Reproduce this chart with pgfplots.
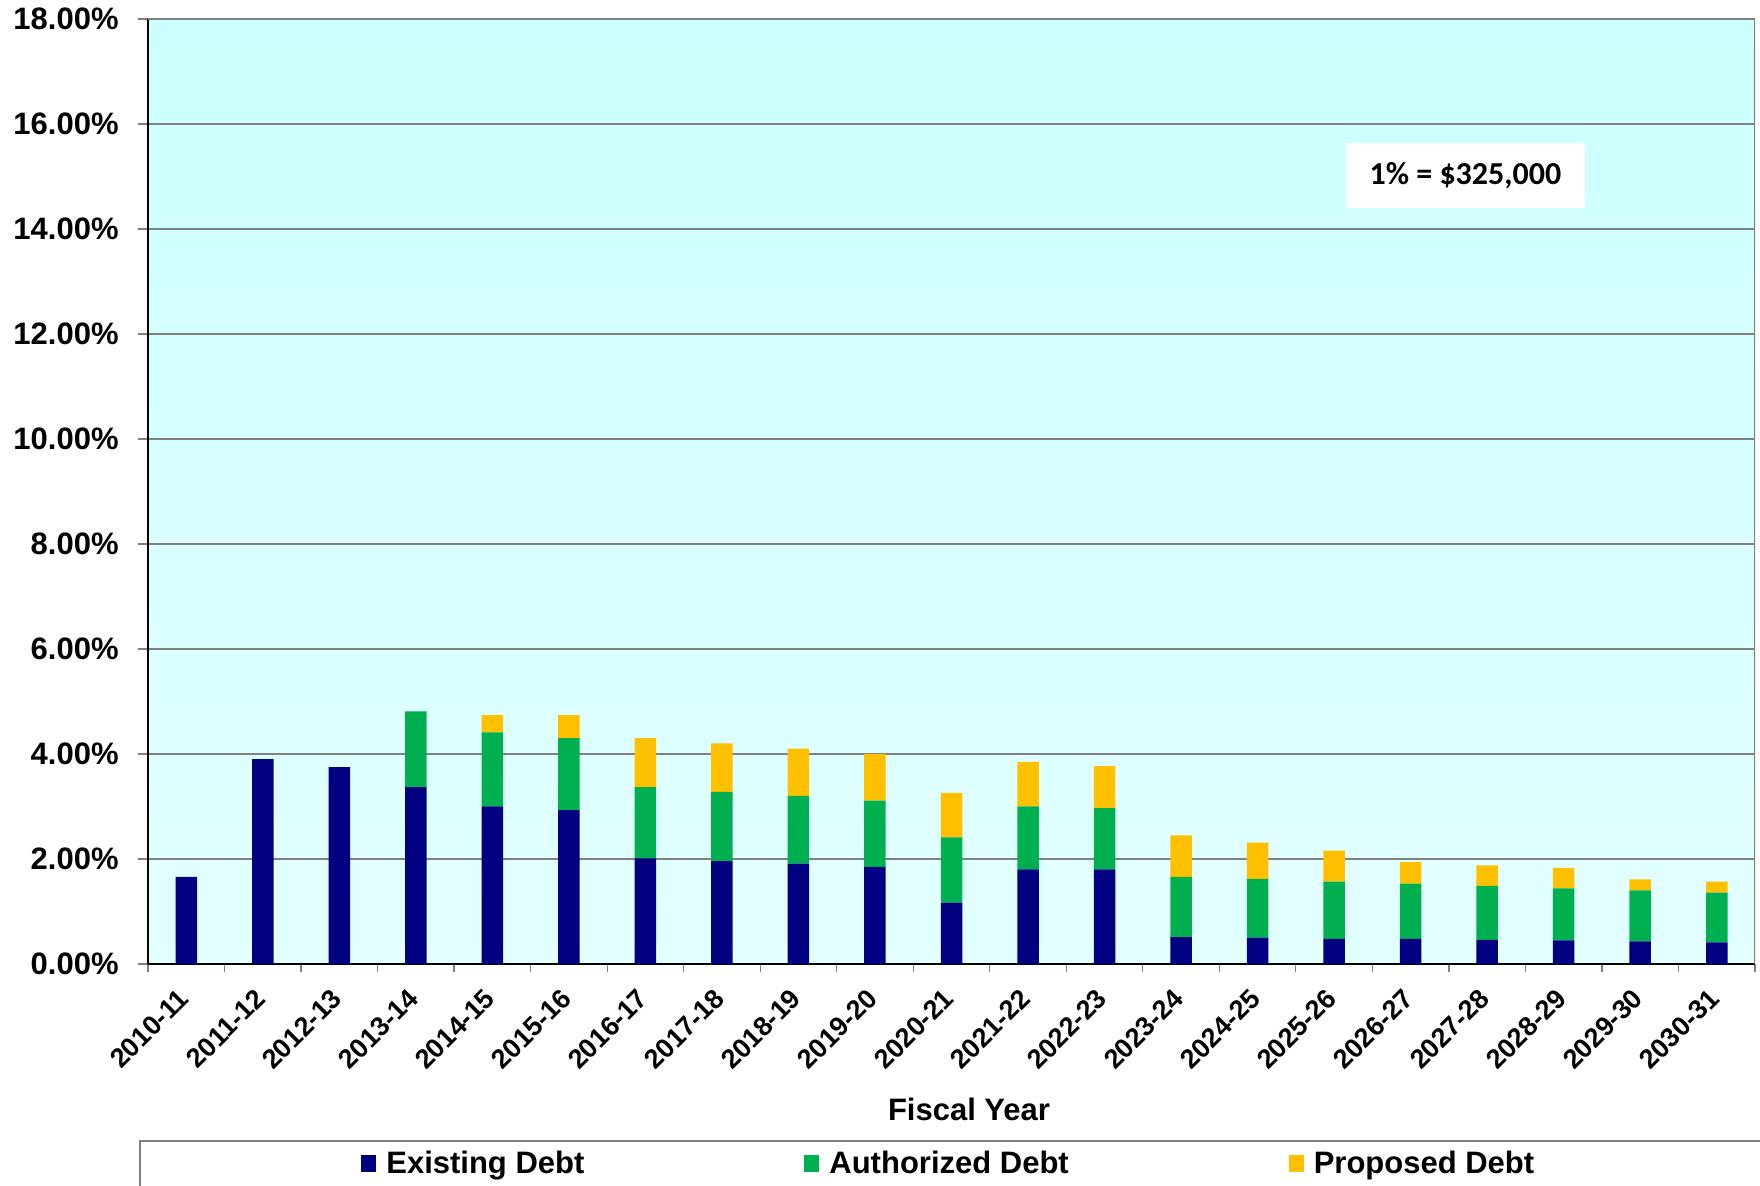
\documentclass[border=0pt]{standalone}
\usepackage{pgfplots}
\pgfplotsset{compat=1.18}
\usepackage{pgfplotstable}
\usepackage{fontspec}
\setmainfont{Liberation Sans}
\newfontfamily\calibri{Carlito}

\definecolor{existing}{HTML}{000080}
\definecolor{authorized}{HTML}{00B050}
\definecolor{proposed}{HTML}{FFC000}
\definecolor{gridgray}{HTML}{808080}
\definecolor{bgtop}{HTML}{CCFFFF}
\definecolor{bgbottom}{HTML}{E3FFFF}

% Debt service as a share of the budget, in percent, by fiscal year
\pgfplotstableread{
idx existing authorized proposed
0  1.66 0    0
1  3.90 0    0
2  3.75 0    0
3  3.37 1.44 0
4  3.00 1.41 0.33
5  2.93 1.37 0.44
6  2.01 1.36 0.93
7  1.96 1.32 0.92
8  1.91 1.29 0.90
9  1.85 1.26 0.89
10 1.17 1.24 0.85
11 1.80 1.20 0.85
12 1.80 1.17 0.80
13 0.51 1.15 0.79
14 0.50 1.12 0.69
15 0.48 1.09 0.59
16 0.48 1.05 0.41
17 0.46 1.03 0.39
18 0.45 0.99 0.39
19 0.43 0.97 0.21
20 0.41 0.95 0.21
}\debttable

\begin{document}
\begin{tikzpicture}
\begin{axis}[
  at={(0pt,0pt)}, anchor=south west,
  scale only axis, width=803.5pt, height=472.5pt,
  ymin=0, ymax=18, xmin=-0.5, xmax=20.5,
  ybar stacked, bar width=10.75pt,
  axis background/.style={top color=bgtop, bottom color=bgbottom},
  axis x line*=bottom, axis y line*=left,
  axis line style={black, line width=1pt},
  ytick={0,2,...,18},
  ymajorgrids, major grid style={gridgray, line width=0.6pt},
  xtick=data,
  xticklabels={2010-11,2011-12,2012-13,2013-14,2014-15,2015-16,2016-17,2017-18,2018-19,2019-20,2020-21,2021-22,2022-23,2023-24,2024-25,2025-26,2026-27,2027-28,2028-29,2029-30,2030-31},
  minor xtick={-0.5,0.5,...,20.5},
  major x tick style={draw=none},
  tick align=outside,
  major tick length=5pt, minor tick length=4pt,
  tick style={gridgray, line width=0.6pt},
  /pgf/number format/assume math mode=true,
  yticklabel={\pgfmathprintnumber[fixed,fixed zerofill,precision=2]{\tick}\%},
  yticklabel style={font=\fontsize{15.5}{18}\selectfont\bfseries, inner sep=0pt, anchor=east, xshift=-9.5pt},
  xticklabel style={font=\fontsize{13.5}{16}\selectfont\bfseries, rotate=45, anchor=east, inner sep=0pt, xshift=-7.8pt, yshift=-6.2pt},
  xlabel={Fiscal Year},
  xlabel style={at={(axis description cs:0.5109,-0.1534)}, anchor=center, font=\fontsize{15.5}{18}\selectfont\bfseries},
  legend columns=3,
  legend style={at={(axis description cs:0.1325,-0.2116)}, anchor=west, draw=none, fill=none,
    font=\fontsize{15.5}{18}\selectfont\bfseries, inner sep=0pt,
    nodes={inner sep=0pt},
    /tikz/every even column/.append style={column sep=110pt}},
  legend image code/.code={\fill[#1] (0pt,-4.25pt) rectangle (7.5pt,4.25pt); \path (12.5pt,0pt);},
]
\addplot[fill=existing, draw=none] table[x=idx, y=existing]{\debttable};
\addplot[fill=authorized, draw=none] table[x=idx, y=authorized]{\debttable};
\addplot[fill=proposed, draw=none] table[x=idx, y=proposed]{\debttable};
\legend{Existing Debt, Authorized Debt, Proposed Debt}
\draw[gridgray, line width=1pt] (rel axis cs:0,1) -- (rel axis cs:1,1) -- (rel axis cs:1,0);
\node[fill=white, minimum width=119.6pt, minimum height=32.3pt, inner sep=0pt,
  font=\calibri\bfseries\fontsize{16}{19}\selectfont] at (rel axis cs:0.8198,0.8346) {1\% = \$325,000};
\end{axis}
\draw[gridgray, line width=0.8pt] (-4pt,-88.5pt) rectangle (815pt,-130pt);
\pgfresetboundingbox
\path[use as bounding box] (-74pt,-111pt) rectangle (806pt,482pt);
\end{tikzpicture}
\end{document}
